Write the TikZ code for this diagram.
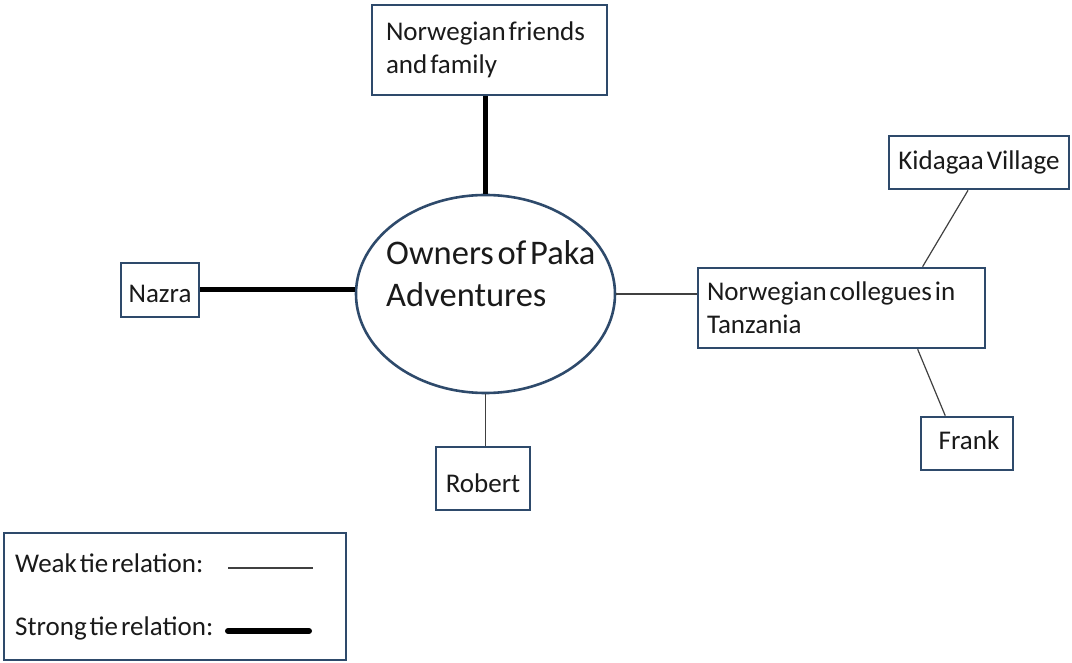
\documentclass[tikz,border=0pt]{standalone}
\usepackage{fontspec}
\setmainfont{Carlito}
\usetikzlibrary{shapes.geometric,calc}
\definecolor{boxblue}{HTML}{2E4A6B}
\definecolor{txt}{HTML}{1A1A1A}
\definecolor{weakc}{HTML}{404040}
\newcommand{\tightsp}{\spaceskip=0.11em\relax\xspaceskip=0.11em\relax}
\tikzset{
  boxnode/.style={draw=boxblue, line width=2.6pt, fill=white, rectangle, inner sep=0pt, text=txt, font=\fontsize{27}{33}\selectfont\tightsp},
  weak/.style={draw=weakc, line width=1.2pt},
  strong/.style={draw=black, line width=5pt},
  legtext/.style={text=txt, font=\fontsize{27}{30}\selectfont\tightsp, anchor=west, inner sep=0pt},
}
\begin{document}
\begin{tikzpicture}[x=1pt,y=-1pt]
\useasboundingbox (0,0) rectangle (1072,663);
% nodes
\node[boxnode, minimum width=235pt, minimum height=90pt, text width=207pt, align=left] (nff) at (489.5,50) {\tightsp Norwegian friends\\\tightsp and family};
\node[draw=boxblue, line width=2.6pt, ellipse, minimum width=259pt, minimum height=198pt, inner sep=0pt] (own) at (485.5,294) {};
\node[text=txt, font=\fontsize{34.5}{42}\selectfont\tightsp, align=left, anchor=west, inner sep=0pt] (ownt) at (386,274) {Owners of Paka\\Adventures};
\node[boxnode, minimum width=78pt, minimum height=54pt] (naz) at (160,290) {\raisebox{-4pt}[\height][\depth]{Nazra}};
\node[boxnode, minimum width=287pt, minimum height=80pt, text width=269pt, align=left] (col) at (841.5,308) {\tightsp Norwegian collegues in\\\tightsp Tanzania};
\node[boxnode, minimum width=180pt, minimum height=53pt] (kid) at (979,162.5) {Kidagaa Village};
\node[boxnode, minimum width=92pt, minimum height=53pt] (fra) at (967,443.5) {\hspace*{4pt}\raisebox{3pt}[\height][\depth]{Frank}};
\node[boxnode, minimum width=94pt, minimum height=63pt] (rob) at (483,478.5) {\raisebox{-5pt}[\height][\depth]{Robert}};
% connectors
\draw[strong] (nff.south -| own.north) -- (own.north);
\draw[strong] (naz.east) -- (naz.east -| own.west);
\draw[weak] (own.east) -- (col.west |- own.east);
\draw[weak] (own.south) -- (own.south |- rob.north);
\draw[weak] ($(kid.south west)!0.44!(kid.south east)$) -- ($(col.north west)!0.78!(col.north east)$);
\draw[weak] ($(col.south west)!0.763!(col.south east)$) -- ($(fra.north west)!0.27!(fra.north east)$);
% legend
\node[boxnode, minimum width=342pt, minimum height=127pt] (leg) at (175,596.5) {};
\node[legtext] (lw) at (15,563) {Weak tie relation:};
\node[legtext] (ls) at (15,628) {Strong tie relation:};
\coordinate (lwa) at (228,568);
\coordinate (lwb) at (313,568);
\coordinate (lsa) at (228,631);
\coordinate (lsb) at (309,631);
\draw[weak] (lwa) -- (lwb);
\draw[strong, line cap=round, line width=6pt] (lsa) -- (lsb);
\end{tikzpicture}
\end{document}
